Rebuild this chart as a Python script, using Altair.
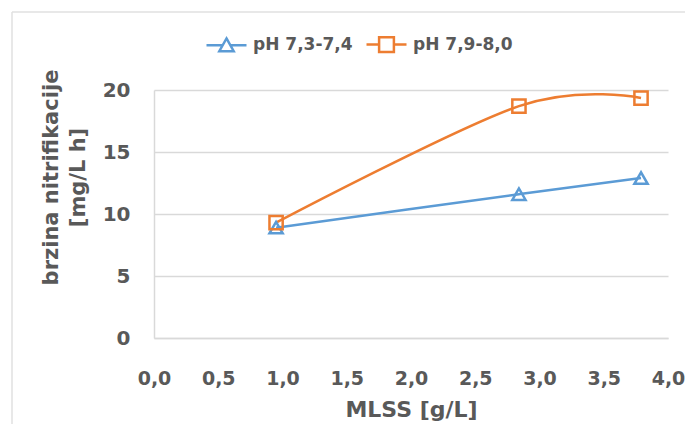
import altair as alt
import pandas as pd

# ---- data ----
mlss = [0.95, 2.84, 3.79]
rate_ph_low = [8.9, 11.6, 12.9]
rate_ph_high = [9.3, 18.7, 19.35]
series_names = ["pH 7,3-7,4", "pH 7,9-8,0"]
series_colors = ["#5B9BD5", "#ED7D31"]
marker_shapes = ["triangle-up", "square"]
legend_shapes = [
    "M-1,0H-0.19M0.19,0H1M0,-0.34L0.36,0.3H-0.36Z",
    "M-1,0H-0.37M0.37,0H1M-0.37,-0.37H0.37V0.37H-0.37Z",
]
x_ticks = [0, 0.5, 1, 1.5, 2, 2.5, 3, 3.5, 4]
y_ticks = [0, 5, 10, 15, 20]

rows = []
for xv, a, b in zip(mlss, rate_ph_low, rate_ph_high):
    rows.append({"mlss": xv, "rate": a, "series": series_names[0]})
    rows.append({"mlss": xv, "rate": b, "series": series_names[1]})
df = pd.DataFrame(rows)

TXT = "#595959"
GRID = "#D9D9D9"
FONT = "DejaVu Sans"

x_enc = alt.X(
    "mlss:Q",
    scale=alt.Scale(domain=[0, 4], nice=False, zero=False),
    axis=alt.Axis(
        values=x_ticks,
        labelExpr="replace(format(datum.value, '.1f'), '.', ',')",
        title="MLSS [g/L]",
        grid=False,
        ticks=False,
        domainColor=GRID,
        domainWidth=1.5,
        labelPadding=31,
        labelFontSize=19,
        labelFlush=False,
        titleFontSize=22,
        titleY=61,
        titleBaseline="top",
    ),
)
y_enc = alt.Y(
    "rate:Q",
    scale=alt.Scale(domain=[0, 20], nice=False),
    axis=alt.Axis(
        values=y_ticks,
        format="d",
        title=["brzina nitrifikacije", "[mg/L h]"],
        grid=True,
        gridColor=GRID,
        gridWidth=1.5,
        ticks=False,
        domainColor=GRID,
        domainWidth=1.5,
        labelPadding=24,
        labelFontSize=20,
        labelFlush=False,
        titleFontSize=21,
        titleLineHeight=27,
        titleX=-93,
        titleY=87,
        titleAlign="center",
        titleBaseline="bottom",
    ),
)
color_scale = alt.Scale(domain=series_names, range=series_colors)

lines = alt.Chart(df).mark_line(interpolate="cardinal", strokeWidth=2.5).encode(
    x=x_enc,
    y=y_enc,
    color=alt.Color("series:N", scale=color_scale, legend=None),
    order=alt.Order("mlss:Q"),
)

points = alt.Chart(df).mark_point(filled=False, strokeWidth=2.5, size=175, opacity=1).encode(
    x=x_enc,
    y=y_enc,
    color=alt.Color("series:N", scale=color_scale, legend=None),
    shape=alt.Shape("series:N", scale=alt.Scale(domain=series_names, range=marker_shapes), legend=None),
)

legend_props = dict(
    title=None,
    orient="none",
    direction="horizontal",
    legendX=51,
    legendY=-67,
    symbolSize=1600,
    symbolStrokeWidth=2.5,
    labelFont=FONT,
    labelFontSize=17,
    labelFontWeight="bold",
    labelColor=TXT,
    labelOffset=5,
    columnPadding=8,
    padding=0,
)

legend_layer = alt.Chart(df).transform_filter("false").mark_point(
    filled=False, strokeWidth=2.5, opacity=1
).encode(
    color=alt.Color("series:N", scale=color_scale, legend=alt.Legend(**legend_props)),
    shape=alt.Shape(
        "series:N",
        scale=alt.Scale(domain=series_names, range=legend_shapes),
        legend=alt.Legend(**legend_props),
    ),
)

frame_df = pd.DataFrame({"k": [0]})
frame_left = alt.Chart(frame_df).mark_rule(color="#E0E0E0", strokeWidth=1.5).encode(
    x=alt.value(-142), y=alt.value(-78), y2=alt.value(340)
)
frame_top = alt.Chart(frame_df).mark_rule(color="#E0E0E0", strokeWidth=1.5).encode(
    x=alt.value(-142), x2=alt.value(540), y=alt.value(-78)
)

chart = (
    alt.layer(frame_left, frame_top, lines, points, legend_layer)
    .resolve_scale(color="independent", shape="independent")
    .properties(
        width=514,
        height=248,
        autosize=alt.AutoSizeParams(type="none"),
        padding={"left": 146, "top": 82, "right": 17, "bottom": 86},
        background="white",
    )
    .configure_view(stroke=None)
    .configure_axis(
        labelFont=FONT,
        titleFont=FONT,
        labelFontWeight="bold",
        titleFontWeight="bold",
        labelColor=TXT,
        titleColor=TXT,
    )
)

chart.save("out.html", embed_options={"renderer": "svg", "actions": False})
